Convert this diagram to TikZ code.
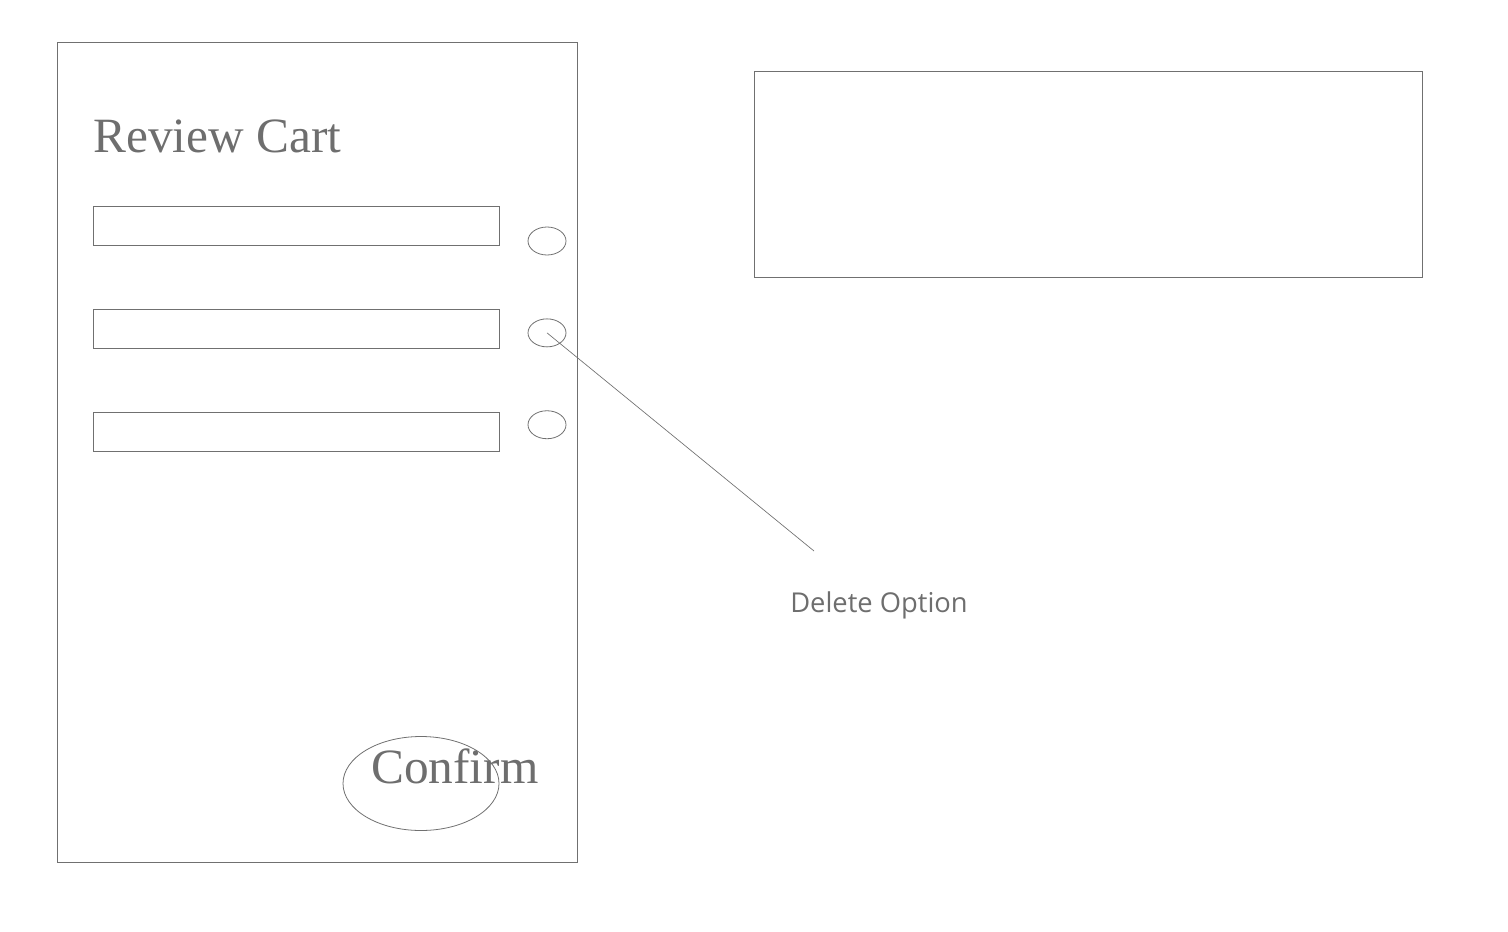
\documentclass[tikz,border=0pt]{standalone}
\usepackage{fontspec}
\setmainfont{Liberation Serif}
\newfontfamily\notefont{Open Sans}
\usepackage{tikz}
\usetikzlibrary{positioning}
\usetikzlibrary{shapes.geometric}
\definecolor{linegray}{HTML}{707070}
\definecolor{textgray}{HTML}{6E6E6E}

\begin{document}
\begin{tikzpicture}[x=0.75pt,y=-0.75pt,node distance=47.3pt,
		box/.style={draw=linegray,line width=0.75pt,rectangle,inner sep=0pt},
		item/.style={box,minimum width=304.5pt,minimum height=29.25pt},
		knob/.style={draw=linegray,line width=0.6pt,ellipse,inner sep=0pt,
			minimum width=28.5pt,minimum height=21pt},
		big/.style={text=textgray,inner sep=0pt,font=\fontsize{37}{40}\selectfont}]
				\useasboundingbox (0,0) rectangle (1508,931);
				\node[box,minimum width=390pt,minimum height=614.25pt] (frame) at (317,452.5) {};
				\node[box,minimum width=501pt,minimum height=153.75pt] (panel) at (1088,174.5) {};
				\node[big,anchor=base west] (title) at (93,152) {Review Cart};

				\node[item] (item1) at (296,225.5) {};
				\node[item] (item2) [below=of item1] {};
				\node[item] (item3) [below=of item2] {};
				\node[knob] (del1) at (547,241) {};
				\node[knob] (del2) [below=of del1] {};
				\node[knob] (del3) [below=of del2] {};

				\node[knob,minimum width=117pt,minimum height=70.5pt] (ok) at (421,783.5) {};
				\node[big,anchor=base west] (oktext) at (371,783) {Confirm};

				\coordinate (tip) at (814,551);
				\node[text=textgray,inner sep=0pt,anchor=base west,
					font=\notefont\fontsize{20.5}{24}\selectfont] (note) at (790,612) {Delete Option};
				\draw[linegray,line width=0.5pt] (del2.center) -- (tip);
\end{tikzpicture}
\end{document}
